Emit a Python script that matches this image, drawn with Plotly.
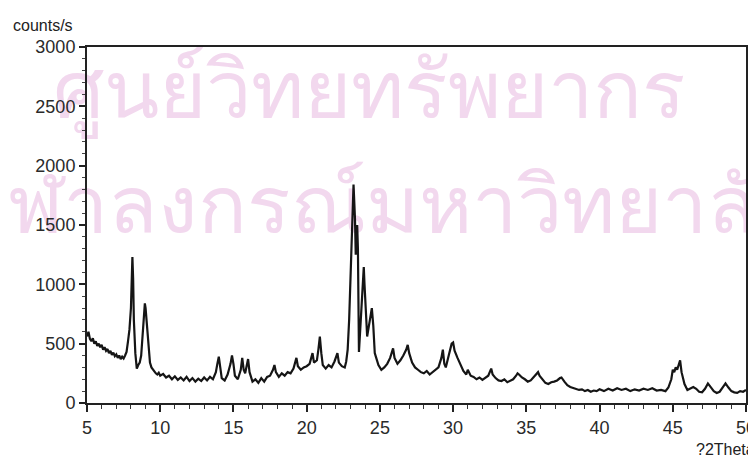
import plotly.graph_objects as go

two_theta = [
    5.0, 5.1, 5.2, 5.3, 5.4, 5.5, 5.6, 5.7, 5.8, 5.9, 6.0, 6.1, 6.2, 6.3, 6.4, 6.5, 6.6, 6.7, 6.8, 6.9,
    7.0, 7.1, 7.2, 7.3, 7.4, 7.5, 7.6, 7.7, 7.8, 7.9, 8.0, 8.05, 8.1, 8.15, 8.2, 8.3, 8.4, 8.5, 8.6, 8.7,
    8.8, 8.9, 8.95, 9.0, 9.1, 9.2, 9.3, 9.4, 9.5, 9.6, 9.7, 9.8, 9.9, 10.0, 10.2, 10.4, 10.6, 10.8, 11.0, 11.2,
    11.4, 11.6, 11.8, 12.0, 12.2, 12.4, 12.6, 12.8, 13.0, 13.2, 13.4, 13.6, 13.8, 13.9, 14.0, 14.1, 14.2, 14.4, 14.6, 14.8,
    14.9, 15.0, 15.1, 15.3, 15.5, 15.6, 15.7, 15.8, 15.9, 16.0, 16.1, 16.3, 16.5, 16.7, 16.9, 17.1, 17.3, 17.5, 17.7, 17.8,
    17.9, 18.1, 18.3, 18.5, 18.7, 18.9, 19.1, 19.2, 19.3, 19.4, 19.6, 19.8, 20.0, 20.2, 20.4, 20.5, 20.7, 20.8, 20.9, 21.0,
    21.1, 21.3, 21.5, 21.7, 21.9, 22.1, 22.2, 22.4, 22.6, 22.7, 22.8, 22.9, 23.0, 23.1, 23.2, 23.3, 23.35, 23.45, 23.5, 23.57,
    23.65, 23.75, 23.85, 23.9, 23.95, 24.05, 24.13, 24.25, 24.35, 24.45, 24.55, 24.65, 24.75, 24.9, 25.1, 25.3, 25.5, 25.7, 25.9, 26.0,
    26.2, 26.4, 26.6, 26.8, 26.9, 27.0, 27.2, 27.4, 27.6, 27.8, 28.0, 28.2, 28.4, 28.6, 28.8, 29.0, 29.2, 29.3, 29.4, 29.5,
    29.7, 29.9, 30.0, 30.1, 30.3, 30.5, 30.7, 30.9, 31.0, 31.2, 31.4, 31.6, 31.8, 32.0, 32.2, 32.4, 32.6, 32.7, 32.9, 33.1,
    33.3, 33.5, 33.7, 33.9, 34.1, 34.3, 34.4, 34.5, 34.7, 34.9, 35.1, 35.3, 35.5, 35.7, 35.8, 35.9, 36.1, 36.3, 36.5, 36.7,
    36.9, 37.1, 37.3, 37.4, 37.6, 37.8, 38.0, 38.2, 38.4, 38.6, 38.8, 39.0, 39.2, 39.4, 39.6, 39.8, 40.0, 40.3, 40.6, 40.9,
    41.2, 41.5, 41.8, 42.1, 42.4, 42.7, 43.0, 43.3, 43.6, 43.9, 44.2, 44.5, 44.7, 44.9, 45.0, 45.1, 45.2, 45.3, 45.4, 45.5,
    45.6, 45.8, 46.0, 46.2, 46.4, 46.6, 46.8, 47.0, 47.2, 47.4, 47.6, 47.8, 48.0, 48.2, 48.4, 48.6, 48.8, 49.0, 49.2, 49.4,
    49.6, 49.8, 50.0,
]
counts = [
    560, 600, 540, 520, 545, 500, 520, 480, 500, 470, 490, 450, 470, 440, 455, 420, 440, 405, 425, 395,
    410, 380, 400, 370, 390, 375, 400, 430, 520, 620, 800, 1000, 1230, 1050, 700, 420, 290, 320, 340, 400,
    560, 760, 840, 800, 620, 430, 340, 300, 280, 260, 250, 240, 255, 230, 245, 215, 230, 200, 225, 195,
    215, 190, 220, 185, 210, 180, 205, 185, 215, 190, 220, 200, 260, 330, 390, 300, 210, 190, 240, 330,
    400, 330, 230, 200, 280, 380, 280, 250, 300, 370, 260, 180, 200, 170, 210, 180, 220, 230, 280, 320,
    260, 220, 250, 230, 260, 250, 290, 340, 380, 310, 280, 300, 310, 330, 420, 340, 360, 450, 560, 420,
    320, 290, 320, 300, 350, 420, 340, 310, 300, 350, 450, 700, 1100, 1500, 1840, 1550, 1250, 1500, 1300, 430,
    600, 900, 1100, 1145, 1000, 700, 560, 650, 720, 800, 650, 420, 380, 320, 280, 300, 330, 380, 460, 380,
    330, 360, 400, 450, 490, 420, 340, 300, 280, 260, 250, 270, 240, 260, 280, 300, 380, 450, 330, 300,
    400, 500, 510, 440, 380, 320, 270, 240, 280, 230, 220, 200, 215, 195, 210, 230, 290, 240, 210, 190,
    185, 200, 175, 190, 200, 230, 250, 240, 215, 200, 180, 190, 220, 240, 260, 230, 200, 170, 160, 175,
    180, 190, 210, 215, 180, 150, 135, 125, 120, 110, 115, 100, 110, 95, 105, 100, 115, 100, 120, 105,
    125, 110, 120, 100, 115, 105, 120, 110, 125, 105, 110, 100, 130, 200, 280, 260, 300, 280, 320, 360,
    260, 160, 110, 120, 135, 120, 95, 90, 120, 165, 130, 100, 85, 95, 130, 165, 130, 100, 90, 85,
    100, 95, 110,
]

x_ticks = [5, 10, 15, 20, 25, 30, 35, 40, 45, 50]
y_ticks = [0, 500, 1000, 1500, 2000, 2500, 3000]
y_label = "counts/s"
x_label = "?2Theta"
watermark_lines = ["ศูนย์วิทยทรัพยากร", "จุฬาลงกรณ์มหาวิทยาลัย"]

fig = go.Figure()
# faint watermark from the scanned page, drawn beneath the pattern
fig.add_trace(go.Scatter(
    x=[24.3, 25.15], y=[2570, 1600], mode="text", text=watermark_lines,
    textfont=dict(size=81, color="#f2d8ee", family="Noto Sans, sans-serif"),
    textposition="middle center", cliponaxis=False,
    showlegend=False, hoverinfo="skip",
))
fig.add_trace(go.Scatter(
    x=two_theta, y=counts, mode="lines",
    line=dict(color="#151515", width=2.2),
    showlegend=False, hoverinfo="skip",
))

axis_font = dict(family="Liberation Sans, Arial, sans-serif", size=18, color="#2a2a2a")

fig.update_layout(
    width=756, height=465,
    # the page body adds an 8px offset; margins compensate so the frame lands where the reference has it
    margin=dict(l=79, r=18, t=39, b=70, autoexpand=False),
    paper_bgcolor="white", plot_bgcolor="white",
    font=axis_font,
    xaxis=dict(
        range=[5, 50], tickvals=x_ticks, ticktext=[str(v) for v in x_ticks],
        showgrid=False, zeroline=False,
        showline=True, linecolor="#222222", linewidth=2, mirror=True,
        ticks="outside", ticklen=7, tickwidth=1.5, tickcolor="#222222",
        minor=dict(dtick=1, ticks="outside", ticklen=4, tickwidth=1, tickcolor="#333333"),
        tickfont=axis_font,
    ),
    yaxis=dict(
        range=[0, 3000], tickvals=y_ticks, ticktext=[str(v) for v in y_ticks],
        showgrid=False, zeroline=False,
        showline=True, linecolor="#222222", linewidth=2, mirror=True,
        ticks="outside", ticklen=6, tickwidth=1.5, tickcolor="#222222",
        minor=dict(dtick=100, ticks="outside", ticklen=3, tickwidth=1, tickcolor="#444444"),
        tickfont=axis_font,
    ),
    annotations=[
        dict(text=y_label, xref="paper", yref="paper", x=-0.116, y=1.03,
             xanchor="left", yanchor="bottom", showarrow=False,
             font=dict(size=16, color="#222222", family="Liberation Sans, Arial, sans-serif")),
        dict(text=x_label, xref="paper", yref="paper", x=1.016, y=-0.1,
             xanchor="right", yanchor="top", showarrow=False,
             font=dict(size=16, color="#222222", family="Liberation Sans, Arial, sans-serif")),
    ],
)

fig.write_html("out.html")
